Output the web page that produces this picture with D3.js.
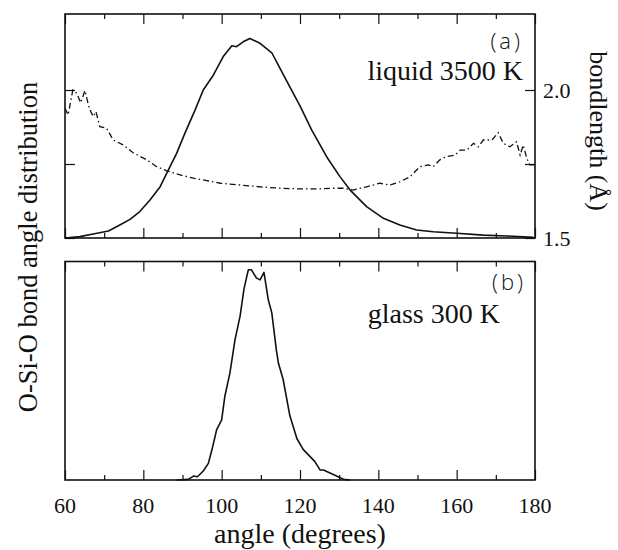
<!DOCTYPE html>
<html>
<head>
<meta charset="utf-8">
<script src="https://cdn.jsdelivr.net/npm/d3@7"></script>
<style>
  body { margin: 0; background: #fff; }
</style>
</head>
<body>
<div id="chart"></div>
<script>
// angle (degrees) and distribution (arbitrary units) for the liquid at 3500 K
const liquidAngle = [60, 63.8, 67.2, 71.1, 74.0, 76.6, 79.1, 81.7, 84.3, 86.4, 88.5, 90.6, 93.2, 95.3,
  97.9, 100.4, 102.6, 103.8, 105.5, 107.2, 109.8, 112.8, 114.9, 117.4, 120.0, 123.0, 126.8, 130.2,
  132.8, 137.0, 141.3, 145.5, 149.8, 154.0, 160.0, 166.8, 172.7, 179.6];
const liquidDist = [0, 0.006, 0.018, 0.031, 0.058, 0.083, 0.118, 0.170, 0.229, 0.304, 0.378, 0.467, 0.571, 0.661,
  0.728, 0.810, 0.858, 0.854, 0.876, 0.891, 0.869, 0.827, 0.757, 0.675, 0.590, 0.482, 0.363, 0.274,
  0.214, 0.140, 0.088, 0.058, 0.036, 0.028, 0.021, 0.013, 0.009, 0.003];

// mean Si-O bond length (Å) vs angle, liquid
const bondAngle = [60.0, 60.8, 62.0, 63.0, 64.0, 65.1, 66.2, 67.2, 67.9, 68.9, 70.6, 72.3, 74.9, 77.4,
  80.9, 83.4, 86.0, 89.4, 92.8, 96.2, 99.6, 104.7, 109.8, 114.9, 120.0, 125.1, 128.5, 131.1, 133.6,
  137.0, 140.4, 143.0, 145.5, 148.1, 150.6, 152.8, 154.0, 155.7, 157.4, 159.6, 160.9, 162.6, 164.3,
  165.5, 166.8, 169.0, 170.6, 171.9, 173.6, 175.3, 176.2, 177.0, 177.9, 178.7, 180.0];
const bondLength = [1.938, 1.916, 2.000, 1.989, 1.957, 1.998, 1.938, 1.910, 1.927, 1.876, 1.871, 1.831, 1.814, 1.788,
  1.764, 1.741, 1.727, 1.713, 1.702, 1.694, 1.685, 1.679, 1.673, 1.668, 1.666, 1.666, 1.668, 1.668, 1.662,
  1.673, 1.685, 1.679, 1.690, 1.707, 1.741, 1.747, 1.741, 1.764, 1.775, 1.780, 1.797, 1.797, 1.820,
  1.808, 1.831, 1.831, 1.856, 1.820, 1.808, 1.825, 1.780, 1.814, 1.769, 1.747, 1.747];

// glass at 300 K
const glassAngle = [88.5, 91.5, 92.8, 93.8, 95.3, 96.6, 97.5, 98.7, 100.0, 100.8, 102.1, 103.4, 104.7, 105.7,
  106.8, 107.6, 108.9, 109.8, 110.8, 111.9, 112.8, 114.0, 114.5, 115.7, 117.4, 119.2, 120.8, 123.8,
  125.1, 126.0, 128.5, 131.1, 132.8];
const glassDist = [0, 0.003, 0.018, 0.015, 0.041, 0.076, 0.137, 0.229, 0.275, 0.382, 0.489, 0.641, 0.75, 0.875,
  0.962, 0.962, 0.924, 0.916, 0.95, 0.825, 0.765, 0.59, 0.534, 0.46, 0.295, 0.19, 0.14, 0.084,
  0.046, 0.046, 0.025, 0.003, 0];

const majorTicks = [60, 80, 100, 120, 140, 160, 180];
const minorTicks = [70, 90, 110, 130, 150, 170];
const bondTicks = [1.5, 1.75, 2.0];
const bondLabels = [1.5, 2.0];

const width = 618, height = 550;
const SERIF = "Liberation Serif";
const SANS = "Open Sans";

const svg = d3.select("#chart").append("svg")
  .attr("width", width)
  .attr("height", height)
  .attr("font-family", SERIF);

const x = d3.scaleLinear().domain([60, 180]).range([65, 535]);
const panels = [
  { top: 14, bottom: 238 },
  { top: 261.5, bottom: 480 }
];
const yLiquid = d3.scaleLinear().domain([0, 1]).range([panels[0].bottom, panels[0].top]);
const yBond = d3.scaleLinear().domain([1.5, 2.0]).range([238, 90]);
const yGlass = d3.scaleLinear().domain([0, 1]).range([panels[1].bottom, panels[1].top]);

function angleTicks(p) {
  [[majorTicks, 10], [minorTicks, 5]].forEach(([vals, len]) => {
    svg.append("g").attr("transform", `translate(0,${p.bottom})`)
      .call(d3.axisBottom(x).tickValues(vals).tickSize(-len).tickFormat(""))
      .call(g => g.select(".domain").remove());
    svg.append("g").attr("transform", `translate(0,${p.top})`)
      .call(d3.axisTop(x).tickValues(vals).tickSize(-len).tickFormat(""))
      .call(g => g.select(".domain").remove());
  });
}
panels.forEach(angleTicks);

// bond length ticks on both sides of panel (a)
svg.append("g").attr("transform", `translate(${x(60)},0)`)
  .call(d3.axisLeft(yBond).tickValues(bondTicks).tickSize(-10).tickFormat(""))
  .call(g => g.select(".domain").remove());
svg.append("g").attr("transform", `translate(${x(180)},0)`)
  .call(d3.axisRight(yBond).tickValues(bondTicks).tickSize(-10).tickFormat(""))
  .call(g => g.select(".domain").remove());

svg.selectAll(".tick line").attr("stroke", "#111").attr("stroke-width", 1.2);

// frames
panels.forEach(p => {
  svg.append("rect")
    .attr("x", x(60)).attr("y", p.top)
    .attr("width", x(180) - x(60)).attr("height", p.bottom - p.top)
    .attr("fill", "none").attr("stroke", "#111").attr("stroke-width", 1.6);
});

// curves
const liquidLine = d3.line().x((d, i) => x(liquidAngle[i])).y(d => yLiquid(d));
svg.append("path")
  .attr("d", liquidLine(liquidDist))
  .attr("fill", "none").attr("stroke", "#111").attr("stroke-width", 1.6)
  .attr("stroke-linejoin", "round");

const bondLine = d3.line().x((d, i) => x(bondAngle[i])).y(d => yBond(d));
svg.append("path")
  .attr("d", bondLine(bondLength))
  .attr("fill", "none").attr("stroke", "#111").attr("stroke-width", 1.3)
  .attr("stroke-dasharray", "6,3,1.5,3");

const glassLine = d3.line().x((d, i) => x(glassAngle[i])).y(d => yGlass(d));
svg.append("path")
  .attr("d", glassLine(glassDist))
  .attr("fill", "none").attr("stroke", "#111").attr("stroke-width", 1.6)
  .attr("stroke-linejoin", "round");

function label(tx, ty, txt, size, anchor, family, rotate) {
  const t = svg.append("text")
    .attr("font-family", family || SERIF)
    .attr("font-size", size)
    .attr("fill", "#111")
    .attr("text-anchor", anchor || "start")
    .text(txt);
  if (rotate) t.attr("transform", `translate(${tx},${ty}) rotate(${rotate})`);
  else t.attr("x", tx).attr("y", ty);
  return t;
}

// bottom tick labels
majorTicks.forEach(d => label(x(d), 513, d, 22, "middle"));

// bond length labels
bondLabels.forEach(d => label(543, yBond(d) + 8, d.toFixed(1), 22));

// axis titles
label(300, 543, "angle (degrees)", 28, "middle");
label(37, 247, "O-Si-O bond angle distribution", 26.5, "middle", SERIF, -90);
label(590, 131, "bondlength (Å)", 26, "middle", SERIF, 90);

// panel labels
label(523, 49, "(a)", 22, "end", SANS).attr("font-weight", 300).attr("letter-spacing", 3);
label(523, 80, "liquid 3500 K", 28, "end");
label(526, 290, "(b)", 22, "end", SANS).attr("font-weight", 300).attr("letter-spacing", 3);
label(500, 323, "glass 300 K", 28, "end");
</script>
</body>
</html>
